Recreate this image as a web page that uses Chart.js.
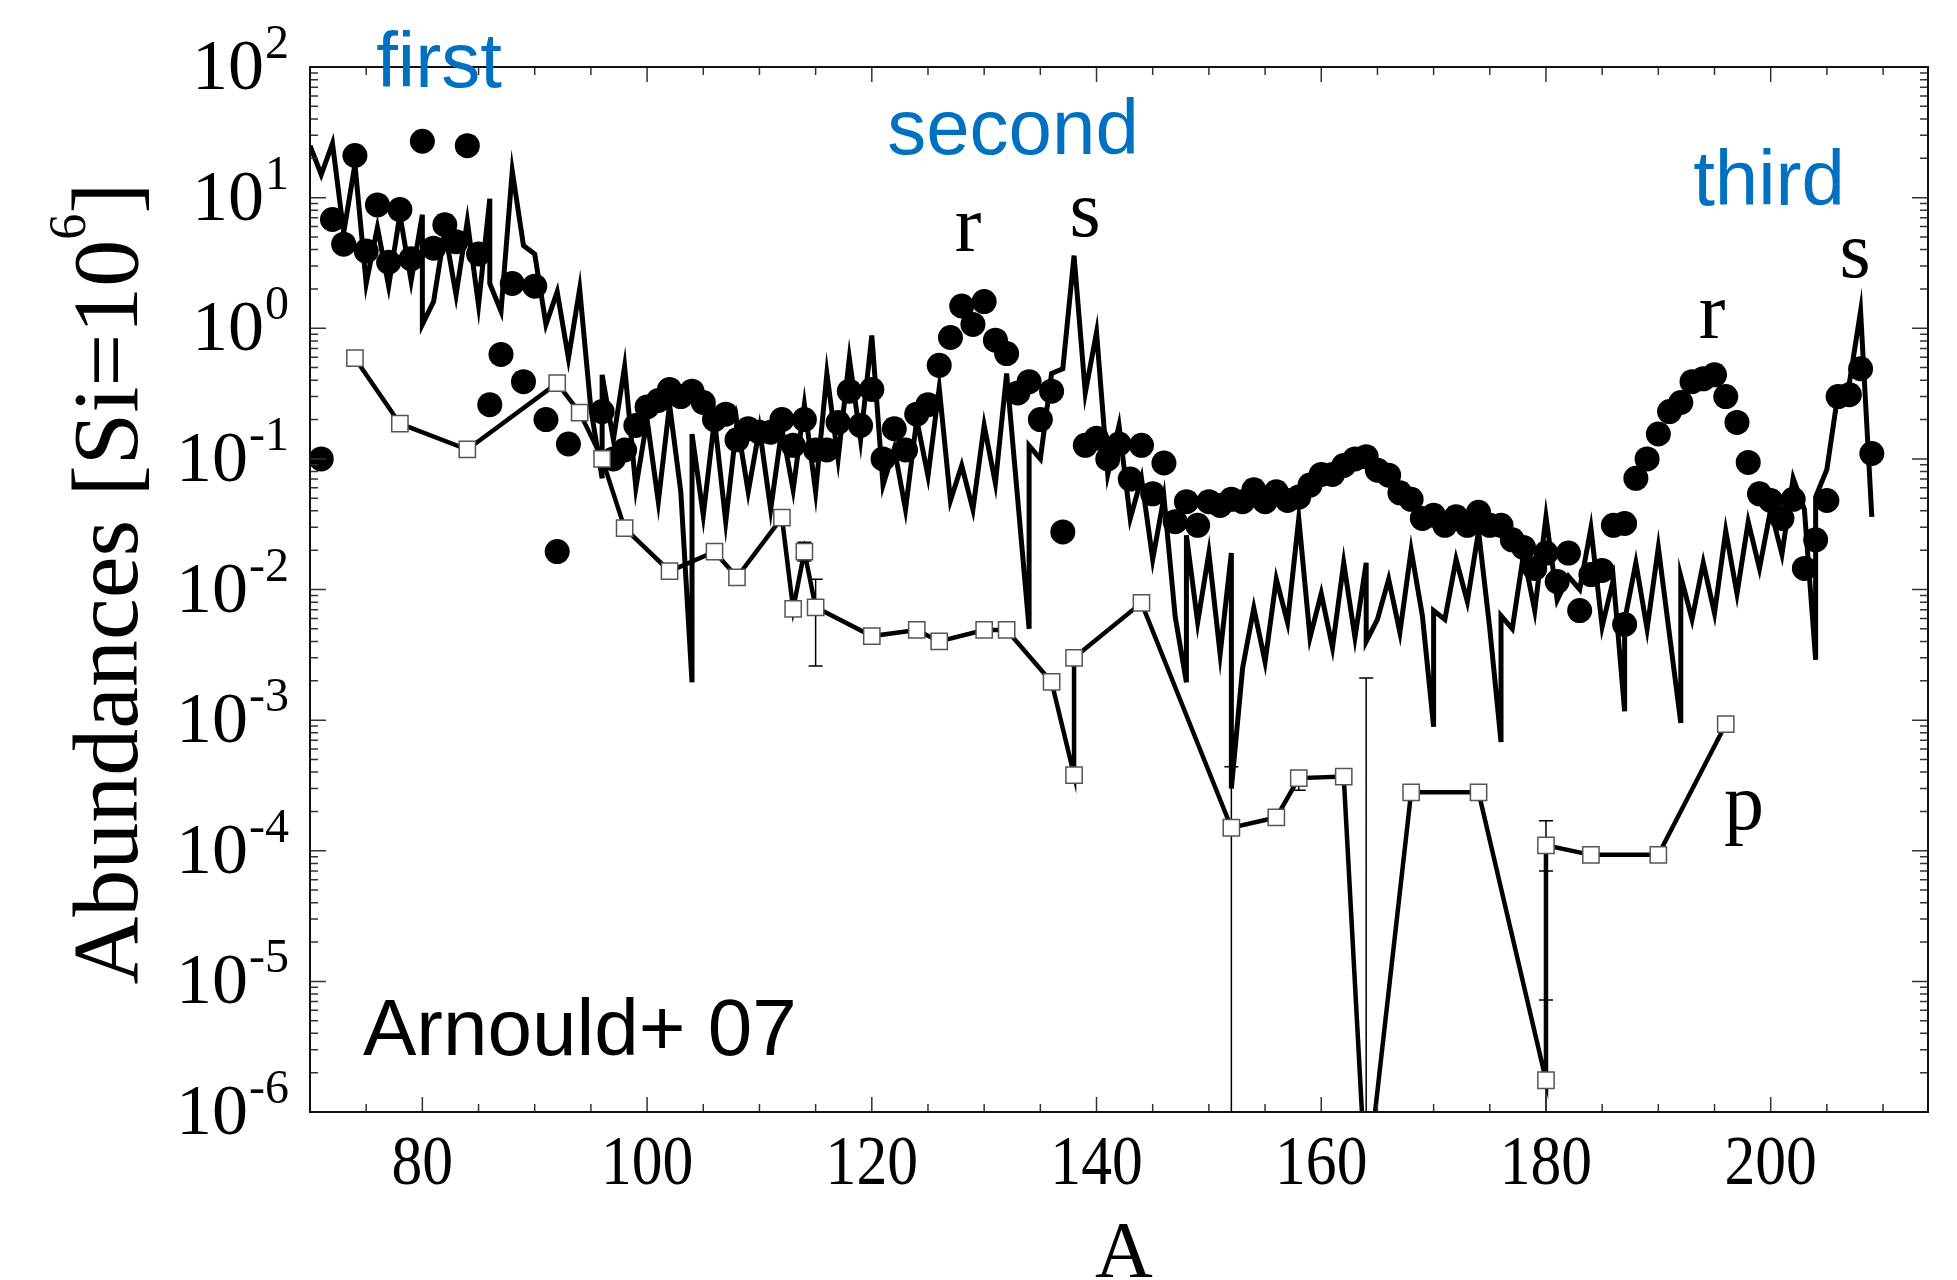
<!DOCTYPE html>
<html>
<head>
<meta charset="utf-8">
<title>Abundances vs A</title>
<script src="https://cdn.jsdelivr.net/npm/chart.js@4.4.1/dist/chart.umd.min.js"></script>
<style>
  html, body { margin: 0; padding: 0; background: #fff; }
  canvas { display: block; }
</style>
</head>
<body>
<canvas id="myChart" width="1957" height="1280"></canvas>
<script>
"use strict";

// s-process curve (duplicated masses give the vertical jumps)
const sMass = [
  70, 71, 72, 73, 74, 75, 76, 77, 78, 79, 80, 80, 81, 82, 83, 84, 85, 86, 86, 87,
  88, 89, 90, 91, 92, 93, 94, 95, 96, 96, 97, 98, 99, 100, 101, 102, 103, 104, 104, 105,
  106, 107, 108, 109, 110, 111, 112, 113, 114, 115, 116, 117, 118, 119, 120, 121, 122, 123, 124, 125,
  126, 127, 128, 129, 130, 131, 132, 134, 134, 135, 136, 137, 138, 139, 140, 141, 142, 143, 144, 145,
  146, 147, 148, 148, 149, 150, 151, 152, 152, 153, 154, 155, 156, 157, 158, 159, 160, 161, 162, 163,
  164, 164, 165, 166, 167, 168, 169, 170, 170, 171, 172, 173, 174, 175, 176, 176, 177, 178, 179, 180,
  181, 182, 183, 184, 185, 186, 187, 187, 188, 189, 190, 192, 192, 193, 194, 195, 196, 197, 198, 199,
  200, 201, 202, 203, 204, 204, 205, 206, 207, 208, 209
];
const sAbund = [
  25, 15, 26, 5.4, 18, 2.2, 5.9, 2.1, 7.4, 2.3, 7.4, 1.07, 1.6, 5.6, 1.8, 6.6, 1.5, 9.8, 2.2, 1.35,
  16, 4.3, 3.7, 1.07, 1.9, 0.59, 2.0, 0.24, 0.071, 0.44, 0.14, 0.51, 0.06, 0.2, 0.047, 0.26, 0.056, 0.00195, 0.155, 0.037,
  0.2, 0.033, 0.19, 0.056, 0.17, 0.041, 0.17, 0.058, 0.26, 0.056, 0.45, 0.1, 0.59, 0.14, 0.88, 0.063, 0.12, 0.041, 0.2, 0.074,
  0.35, 0.048, 0.089, 0.041, 0.18, 0.065, 0.45, 0.005, 0.126, 0.1, 0.45, 0.49, 3.6, 0.32, 0.93, 0.076, 0.18, 0.035, 0.071, 0.017,
  0.051, 0.0062, 0.00195, 0.026, 0.0056, 0.019, 0.0032, 0.019, 0.0003, 0.0025, 0.0072, 0.0028, 0.012, 0.0056, 0.035, 0.0043, 0.0093, 0.0036, 0.016, 0.0043,
  0.016, 0.004, 0.0059, 0.012, 0.0047, 0.02, 0.0063, 0.00089, 0.0069, 0.0059, 0.017, 0.0081, 0.028, 0.005, 0.00068, 0.0063, 0.005, 0.0186, 0.0069, 0.036,
  0.0083, 0.0126, 0.01, 0.0295, 0.0052, 0.012, 0.00117, 0.0058, 0.016, 0.005, 0.021, 0.00095, 0.0126, 0.0059, 0.016, 0.0066, 0.028, 0.0093, 0.033, 0.0145,
  0.041, 0.0186, 0.071, 0.041, 0.0029, 0.051, 0.083, 0.32, 0.38, 1.35, 0.036
];

// r-process residuals (filled circles)
const rMass = [
  71, 72, 73, 74, 75, 76, 77, 78, 79, 80, 81, 82, 83, 84, 85, 86, 87, 88, 89, 90,
  91, 92, 93, 96, 97, 98, 99, 100, 101, 102, 103, 104, 105, 106, 107, 108, 109, 110, 111, 112,
  113, 114, 115, 116, 117, 118, 119, 120, 121, 122, 123, 124, 125, 126, 127, 128, 129, 130, 131, 132,
  133, 134, 135, 136, 137, 139, 140, 141, 142, 143, 144, 145, 146, 147, 148, 149, 150, 151, 152, 153,
  154, 155, 156, 157, 158, 159, 160, 161, 162, 163, 164, 165, 166, 167, 168, 169, 170, 171, 172, 173,
  174, 175, 176, 177, 178, 179, 180, 181, 182, 183, 184, 185, 186, 187, 187, 188, 189, 190, 191, 192,
  193, 194, 195, 196, 197, 198, 199, 200, 201, 202, 203, 204, 205, 206, 207, 208, 209
];
const rAbund = [
  0.1, 6.8, 4.4, 21, 3.9, 8.8, 3.2, 8.1, 3.4, 27, 4.1, 6.2, 4.6, 25, 3.7, 0.26, 0.63, 2.2, 0.39, 2.1,
  0.2, 0.0195, 0.13, 0.23, 0.1, 0.117, 0.18, 0.25, 0.28, 0.34, 0.3, 0.33, 0.27, 0.2, 0.22, 0.14, 0.17, 0.16, 0.16, 0.2,
  0.127, 0.2, 0.117, 0.117, 0.19, 0.33, 0.18, 0.34, 0.1, 0.17, 0.117, 0.22, 0.26, 0.52, 0.85, 1.48, 1.07, 1.6, 0.81, 0.64,
  0.32, 0.39, 0.2, 0.33, 0.0276, 0.127, 0.144, 0.1, 0.13, 0.07, 0.127, 0.054, 0.093, 0.033, 0.047, 0.031, 0.047, 0.044, 0.049, 0.047,
  0.058, 0.047, 0.056, 0.048, 0.051, 0.063, 0.076, 0.076, 0.089, 0.1, 0.104, 0.082, 0.075, 0.055, 0.049, 0.035, 0.037, 0.031, 0.036, 0.031,
  0.039, 0.031, 0.031, 0.024, 0.021, 0.0145, 0.019, 0.0115, 0.019, 0.0069, 0.013, 0.014, 0.031, 0.032, 0.0054, 0.071, 0.1, 0.155, 0.23, 0.27,
  0.39, 0.41, 0.44, 0.3, 0.19, 0.094, 0.054, 0.048, 0.035, 0.049, 0.0145, 0.024, 0.048, 0.3, 0.31, 0.49, 0.11
];

// p-nuclides (open squares)
const pMass = [
  74, 78, 84, 92, 94, 96, 98, 102, 106, 108, 112, 113, 114, 115, 120, 124, 126, 130, 132, 136,
  138, 138, 144, 152, 156, 158, 162, 164, 168, 174, 180, 180, 184, 190, 196
];
const pAbund = [
  0.59, 0.186, 0.118, 0.38, 0.226, 0.1, 0.0295, 0.0138, 0.0195, 0.0124, 0.0355, 0.0071, 0.0195, 0.0073, 0.0044, 0.0049, 0.004, 0.0049, 0.0049, 0.00196,
  0.00038, 0.003, 0.0079, 0.00015, 0.00018, 0.00036, 0.00037, 2.5e-7, 0.00028, 0.00028, 1.75e-6, 0.00011, 0.000093, 0.000093, 0.00093
];

// error bars on some p-nuclides (lower end 1e-9 means "runs off the axis")
const errMass = [114, 115, 152, 158, 164, 180, 180];
const errLow = [0.0165, 0.0026, 1e-9, 0.00029, 1e-9, 7e-5, 1e-9];
const errHigh = [0.023, 0.012, 0.00044, 0.0004, 0.0021, 0.00017, 7.2e-6];

const xTickLabels = [80, 100, 120, 140, 160, 180, 200];
const yTickExponents = [-6, -5, -4, -3, -2, -1, 0, 1, 2];

const blue = "#0070C0";

function toPoints(xs, ys) {
  return xs.map((x, i) => ({ x: x, y: ys[i] }));
}

// frame, inward ticks, error bars and all the lettering
const decorations = {
  id: "decorations",
  beforeDatasetsDraw(chart) {
    const { ctx, chartArea: a, scales: { x, y } } = chart;
    ctx.save();
    ctx.beginPath();
    ctx.rect(a.left, a.top, a.right - a.left, a.bottom - a.top);
    ctx.clip();
    ctx.strokeStyle = "#000";
    ctx.lineWidth = 1.5;
    ctx.beginPath();
    errMass.forEach((m, i) => {
      const px = x.getPixelForValue(m);
      const top = y.getPixelForValue(errHigh[i]);
      const bot = Math.min(y.getPixelForValue(errLow[i]), a.bottom + 5);
      ctx.moveTo(px, top);
      ctx.lineTo(px, bot);
      ctx.moveTo(px - 7, top);
      ctx.lineTo(px + 7, top);
      if (bot < a.bottom) {
        ctx.moveTo(px - 7, bot);
        ctx.lineTo(px + 7, bot);
      }
    });
    ctx.stroke();
    ctx.restore();
  },
  afterDraw(chart) {
    const { ctx, chartArea: a, scales: { x, y } } = chart;
    ctx.save();

    // ticks on all four sides
    ctx.strokeStyle = "#333";
    ctx.lineWidth = 1.5;
    ctx.beginPath();
    for (let v = 75; v <= 210; v += 5) {
      const px = x.getPixelForValue(v);
      const len = v % 20 === 0 ? 15 : 8;
      ctx.moveTo(px, a.bottom);
      ctx.lineTo(px, a.bottom - len);
      ctx.moveTo(px, a.top);
      ctx.lineTo(px, a.top + len);
    }
    yTickExponents.forEach((e) => {
      for (let m = 1; m <= 9; m++) {
        if (e === 2 && m > 1) break;
        const py = y.getPixelForValue(m * Math.pow(10, e));
        const len = m === 1 ? 16 : 8;
        ctx.moveTo(a.left, py);
        ctx.lineTo(a.left + len, py);
        ctx.moveTo(a.right, py);
        ctx.lineTo(a.right - len, py);
      }
    });
    ctx.stroke();
    ctx.strokeStyle = "#111";
    ctx.lineWidth = 2;
    ctx.strokeRect(a.left, a.top, a.right - a.left, a.bottom - a.top);

    // y tick labels: 10 with raised exponent
    ctx.fillStyle = "#000";
    ctx.textBaseline = "alphabetic";
    yTickExponents.forEach((e) => {
      const py = y.getPixelForValue(Math.pow(10, e));
      const exp = String(e);
      ctx.font = "48px 'Liberation Serif'";
      ctx.textAlign = "right";
      const ew = ctx.measureText(exp).width;
      ctx.fillText(exp, 289, py - 9);
      ctx.font = "72px 'Liberation Serif'";
      ctx.fillText("10", 289 - ew - 1, py + 22);
    });

    // x tick labels
    ctx.textAlign = "center";
    xTickLabels.forEach((v) => {
      ctx.save();
      ctx.translate(x.getPixelForValue(v), 1184);
      ctx.scale(0.88, 1);
      ctx.font = "70px 'Liberation Serif'";
      ctx.fillText(String(v), 0, 0);
      ctx.restore();
    });

    // axis titles
    ctx.font = "80px 'Liberation Serif'";
    ctx.fillText("A", (a.left + a.right) / 2 + 5, 1277);

    ctx.save();
    ctx.translate(137, (a.top + a.bottom) / 2 - 6);
    ctx.rotate(-Math.PI / 2);
    const main = "Abundances [Si=10";
    ctx.font = "94px 'Liberation Serif'";
    const w1 = ctx.measureText(main).width;
    const w3 = ctx.measureText("]").width;
    ctx.font = "52px 'Liberation Serif'";
    const w2 = ctx.measureText("6").width;
    let tx = -(w1 + w2 + w3) / 2;
    ctx.textAlign = "left";
    ctx.font = "94px 'Liberation Serif'";
    ctx.fillText(main, tx, 0);
    ctx.font = "52px 'Liberation Serif'";
    ctx.fillText("6", tx + w1, -52);
    ctx.font = "94px 'Liberation Serif'";
    ctx.fillText("]", tx + w1 + w2, 0);
    ctx.restore();

    // peak names
    ctx.fillStyle = blue;
    ctx.textAlign = "center";
    ctx.font = "78px 'Liberation Sans'";
    ctx.fillText("first", 439, 87);
    ctx.fillText("second", 1013, 154);
    ctx.fillText("third", 1769, 205);

    // process letters
    ctx.fillStyle = "#000";
    ctx.font = "80px 'Liberation Serif'";
    ctx.fillText("r", 968, 251);
    ctx.fillText("s", 1085, 236);
    ctx.fillText("r", 1712, 338);
    ctx.fillText("s", 1855, 277);
    ctx.fillText("p", 1744, 829);

    ctx.textAlign = "left";
    ctx.font = "80px 'Liberation Sans'";
    ctx.fillText("Arnould+ 07", 363, 1055);

    ctx.restore();
  },
};

const ctx = document.getElementById("myChart");
const myChart = new Chart(ctx, {
  type: "line",
  data: {
    datasets: [
      {
        label: "p",
        data: toPoints(pMass, pAbund),
        borderColor: "#000",
        borderWidth: 4.5,
        pointStyle: "rect",
        pointRadius: 11.5,
        pointBackgroundColor: "#fff",
        pointBorderColor: "#555",
        pointBorderWidth: 1.5,
        tension: 0,
        clip: 0,
      },
      {
        label: "r",
        data: toPoints(rMass, rAbund),
        showLine: false,
        pointStyle: "circle",
        pointRadius: 12.5,
        pointBackgroundColor: "#000",
        pointBorderColor: "#000",
        pointBorderWidth: 0,
        clip: 0,
      },
      {
        label: "s",
        data: toPoints(sMass, sAbund),
        borderColor: "#000",
        borderWidth: 5,
        pointRadius: 0,
        tension: 0,
        clip: 0,
      },
    ],
  },
  options: {
    responsive: false,
    animation: false,
    events: [],
    layout: { padding: { left: 0, right: 29, top: 67, bottom: 0 } },
    plugins: {
      legend: { display: false },
      tooltip: { enabled: false },
    },
    scales: {
      x: {
        type: "linear",
        min: 70,
        max: 214,
        grid: { display: false, drawTicks: false },
        border: { display: false },
        ticks: { display: false },
        afterFit(scale) {
          scale.height = 168;
        },
      },
      y: {
        type: "logarithmic",
        min: 1e-6,
        max: 100,
        grid: { display: false, drawTicks: false },
        border: { display: false },
        ticks: { display: false },
        afterFit(scale) {
          scale.width = 310;
        },
      },
    },
  },
  plugins: [decorations],
});
</script>
</body>
</html>
